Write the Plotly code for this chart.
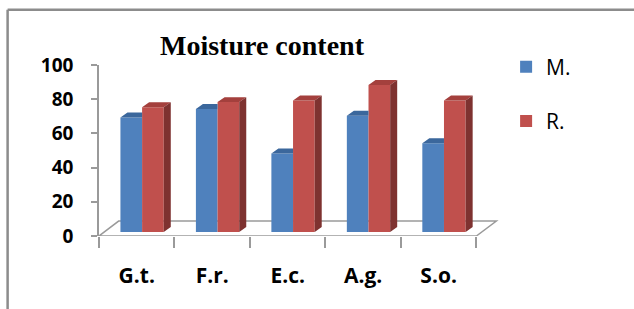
import plotly.graph_objects as go

# ---- data ----
categories = ["G.t.", "F.r.", "E.c.", "A.g.", "S.o."]
series_M = [67, 72, 46, 68, 52]
series_R = [73, 76, 77, 86, 77]
y_ticks = [0, 20, 40, 60, 80, 100]

# ---- styling / geometry ----
W, H = 634, 309
PX_L, PX_R = 99.3, 498.9      # plot area pixels (x range -0.5..4.8)
PX_T, PX_B = 64.5, 236.0      # plot area pixels (y range 0..100)
XR = [-0.5, 4.8]
YR = [0, 100]

BLUE, BLUE_TOP = "#4F81BD", "#3B679C"
RED, RED_TOP, RED_SIDE = "#C0504D", "#A4403D", "#7E3230"
GRID = "#9A9A9A"

BW = 0.287          # bar width (category units)
OFF_M, OFF_R = -0.216, 0.071
BASE = 2.3          # depth-offset base (y units)
DX, DY = 0.093, 2.9 # bar depth vector

def px_to_paper_x(px):
    return (px - PX_L) / (PX_R - PX_L)

def px_to_paper_y(py):
    return (PX_B - py) / (PX_B - PX_T)

xs = list(range(len(categories)))

fig = go.Figure()

fig.add_trace(go.Bar(x=xs, y=series_M, base=BASE, width=BW, offset=OFF_M,
                     marker=dict(color=BLUE, line=dict(width=0)), name="M.",
                     legendgroup="M"))
fig.add_trace(go.Bar(x=xs, y=series_R, base=BASE, width=BW, offset=OFF_R,
                     marker=dict(color=RED, line=dict(width=0)), name="R.",
                     legendgroup="R"))

# 3D faces built from the data
def top_face(x, v, off, clip):
    xl = x + off
    xr = xl + BW
    t = BASE + v
    if clip:
        return [xl, xr, xr, xl + DX, xl, None], [t, t, t + DY, t + DY, t, None]
    return [xl, xr, xr + DX, xl + DX, xl, None], [t, t, t + DY, t + DY, t, None]

def side_face(x, v, off):
    xr = x + off + BW
    t = BASE + v
    return [xr, xr, xr + DX, xr + DX, xr, None], [BASE, t, t + DY, BASE + DY, BASE, None]

mx, my, rx, ry, sx, sy = [], [], [], [], [], []
for x, m, r in zip(xs, series_M, series_R):
    a, b = top_face(x, m, OFF_M, True); mx += a; my += b
    a, b = top_face(x, r, OFF_R, False); rx += a; ry += b
    a, b = side_face(x, r, OFF_R); sx += a; sy += b

for px_, py_, col in [(mx, my, BLUE_TOP), (rx, ry, RED_TOP), (sx, sy, RED_SIDE)]:
    fig.add_trace(go.Scatter(x=px_, y=py_, mode="lines", fill="toself",
                             fillcolor=col, line=dict(width=0, color=col),
                             showlegend=False, hoverinfo="skip"))

# floor outline
fig.add_shape(type="path", layer="below",
              path="M -0.5,0 L 4.5,0 L 4.765,8.74 L -0.24,8.74 Z",
              xref="x", yref="y", line=dict(color=GRID, width=1.5))

# outer frame (top and left edges)
fig.add_shape(type="line", xref="paper", yref="paper",
              x0=px_to_paper_x(8), x1=px_to_paper_x(W + 5),
              y0=px_to_paper_y(9), y1=px_to_paper_y(9),
              line=dict(color="#8C8C8C", width=2.5))
fig.add_shape(type="line", xref="paper", yref="paper",
              x0=px_to_paper_x(8), x1=px_to_paper_x(8),
              y0=px_to_paper_y(9), y1=px_to_paper_y(H + 5),
              line=dict(color="#8C8C8C", width=2.5))

boundaries = [i - 0.5 for i in range(len(categories) + 1)]

fig.update_layout(
    width=W, height=H,
    margin=dict(l=PX_L, r=W - PX_R, t=PX_T, b=H - PX_B, pad=0, autoexpand=False),
    paper_bgcolor="white", plot_bgcolor="white",
    barmode="overlay",
    showlegend=True,
    title=dict(text="<b>Moisture content</b>", x=262 / W, xref="container",
               xanchor="center", y=1 - 45 / H, yref="container", yanchor="middle",
               font=dict(family="Liberation Serif", size=28, color="black")),
    legend=dict(x=px_to_paper_x(506), y=px_to_paper_y(46), xanchor="left", yanchor="top",
                font=dict(family="Open Sans", size=21, color="black"),
                tracegroupgap=24, bgcolor="rgba(0,0,0,0)"),
    xaxis=dict(range=XR, tickmode="array", tickvals=xs, ticktext=categories,
               ticks="", showgrid=False, zeroline=False, showline=False,
               ticklabelstandoff=25,
               tickfont=dict(family="Open Sans", size=21, color="black", weight="bold"),
               minor=dict(tickmode="array", tickvals=boundaries, ticks="outside",
                          ticklen=11, tickwidth=1.5, tickcolor=GRID, showgrid=False)),
    yaxis=dict(range=YR, tickmode="array", tickvals=y_ticks, ticks="outside",
               ticklen=6, tickwidth=1.5, tickcolor=GRID, showline=True,
               linecolor=GRID, linewidth=1.5, showgrid=False, zeroline=False,
               ticklabelstandoff=14,
               tickfont=dict(family="Open Sans", size=19, color="black", weight="bold")),
)

fig.write_html("out.html", config={"displayModeBar": False},
               post_script="document.body.style.margin='0px';")
